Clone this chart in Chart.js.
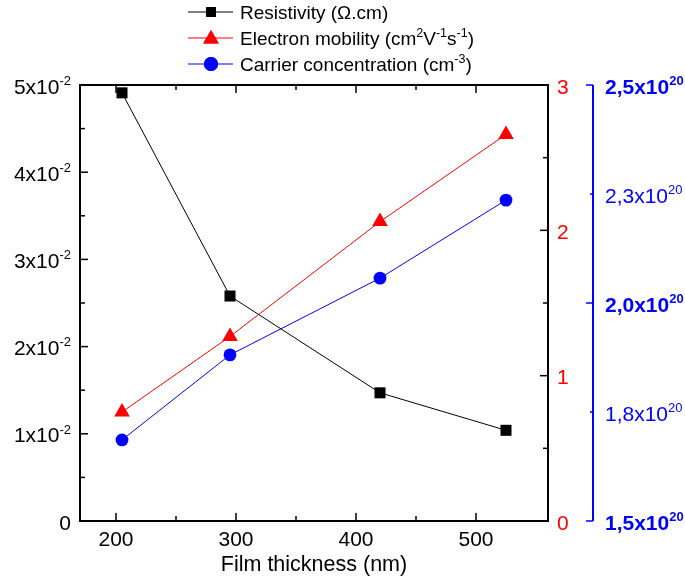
<!DOCTYPE html>
<html>
<head>
<meta charset="utf-8">
<script src="https://cdn.jsdelivr.net/npm/chart.js@4.4.0/dist/chart.umd.min.js"></script>
<style>
  html, body { margin: 0; padding: 0; background: #fff; }
</style>
</head>
<body>
<canvas id="grafik" width="685" height="582"></canvas>
<script>
// Veri
const thickness = [205, 295, 420, 525];
const resistivity = [0.0491, 0.0258, 0.0147, 0.0104];
const mobility = [0.75, 1.27, 2.06, 2.66];
const carrier = [1.686e20, 1.881e20, 2.057e20, 2.236e20];

const seriesNames = [
  "Resistivity (\u03A9.cm)",
  "Electron mobility (cm^{2}V^{-1}s^{-1})",
  "Carrier concentration (cm^{-3})"
];
const xTickLabels = ["200", "300", "400", "500"];
const resTickLabels = ["0", "1x10^{-2}", "2x10^{-2}", "3x10^{-2}", "4x10^{-2}", "5x10^{-2}"];
const mobTickLabels = ["0", "1", "2", "3"];
const carTickLabels = ["1,5x10^{20}", "1,8x10^{20}", "2,0x10^{20}", "2,3x10^{20}", "2,5x10^{20}"];
const xTitle = "Film thickness (nm)";

const FONT = '"Liberation Sans", Arial, sans-serif';

function toPoints(ys) {
  return thickness.map((x, i) => ({ x: x, y: ys[i] }));
}

// "a^{b}c" -> [{t:'a'}, {t:'b', sup:true}, {t:'c'}]
function parseRich(s) {
  const parts = [];
  const re = /\^\{([^}]*)\}/g;
  let last = 0, m;
  while ((m = re.exec(s)) !== null) {
    if (m.index > last) parts.push({ t: s.slice(last, m.index) });
    parts.push({ t: m[1], sup: true });
    last = re.lastIndex;
  }
  if (last < s.length) parts.push({ t: s.slice(last) });
  return parts;
}

// metin çiz (üst simgeli), y = yazı ortası
function drawRich(ctx, s, x, y, align, color, size, supSize, bold) {
  const parts = parseRich(s);
  const w = bold ? "bold " : "";
  let total = 0;
  parts.forEach(p => {
    ctx.font = w + (p.sup ? supSize : size) + "px " + FONT;
    p.w = ctx.measureText(p.t).width;
    total += p.w;
  });
  let cx = align === "right" ? x - total : align === "center" ? x - total / 2 : x;
  ctx.fillStyle = color;
  ctx.textAlign = "left";
  ctx.textBaseline = "alphabetic";
  const base = y + size * 0.36;
  parts.forEach(p => {
    ctx.font = w + (p.sup ? supSize : size) + "px " + FONT;
    ctx.fillText(p.t, cx, p.sup ? base - size * 0.42 : base);
    cx += p.w;
  });
}

function line(ctx, x1, y1, x2, y2) {
  ctx.beginPath();
  ctx.moveTo(x1, y1);
  ctx.lineTo(x2, y2);
  ctx.stroke();
}

const eksenPlugin = {
  id: "eksenler",
  afterDraw(chart) {
    const ctx = chart.ctx;
    const a = chart.chartArea;
    const sx = chart.scales.x, sr = chart.scales.yRes, sm = chart.scales.yMob, sc = chart.scales.yCar;
    ctx.save();
    ctx.lineCap = "square";

    // çerçeve
    ctx.strokeStyle = "#000";
    ctx.lineWidth = 2;
    ctx.strokeRect(a.left, a.top, a.right - a.left, a.bottom - a.top);

    // x tikleri (alt + üst, içe doğru)
    ctx.lineWidth = 1.5;
    ctx.lineCap = "butt";
    sx.ticks.forEach(t => {
      const px = sx.getPixelForValue(t.value);
      const len = t.value % 100 === 0 ? 8 : 5;
      line(ctx, px, a.bottom, px, a.bottom - len);
      line(ctx, px, a.top, px, a.top + len);
    });
    xTickLabels.forEach(l => {
      const px = sx.getPixelForValue(Number(l));
      drawRich(ctx, l, px, 538.5, "center", "#000", 21, 13);
    });
    drawRich(ctx, xTitle, (a.left + a.right) / 2, 563, "center", "#000", 21.5, 14);

    // sol eksen (özdirenç)
    sr.ticks.forEach(t => {
      const py = sr.getPixelForValue(t.value);
      const major = Math.abs(t.value / 0.01 - Math.round(t.value / 0.01)) < 1e-6;
      line(ctx, a.left, py, a.left + (major ? 8 : 5), py);
    });
    resTickLabels.forEach((l, i) => {
      const py = sr.getPixelForValue(i * 0.01);
      drawRich(ctx, l, 71, py + 1, "right", "#000", 21, 13);
    });

    // sağ eksen (mobilite), tikler içe
    sm.ticks.forEach(t => {
      const py = sm.getPixelForValue(t.value);
      const major = Math.abs(t.value - Math.round(t.value)) < 1e-6;
      line(ctx, a.right, py, a.right - (major ? 8 : 5), py);
    });
    mobTickLabels.forEach(l => {
      const py = sm.getPixelForValue(Number(l));
      drawRich(ctx, l, 557, py + 1, "left", "#ff0000", 21, 13);
    });

    // uzak sağ eksen (taşıyıcı yoğunluğu)
    const bx = 593;
    ctx.strokeStyle = "#0000ff";
    ctx.lineWidth = 2;
    line(ctx, bx, a.top, bx, a.bottom);
    ctx.lineWidth = 1.5;
    sc.ticks.forEach((t, i) => {
      const py = sc.getPixelForValue(t.value);
      line(ctx, bx, py, bx - (i % 2 === 0 ? 7 : 3), py);
    });
    carTickLabels.forEach((l, i) => {
      const v = 1.5e20 + i * 0.25e20;
      const py = sc.getPixelForValue(v);
      drawRich(ctx, l, 605, py + 1, "left", "#0000ff", 21, 13, i % 2 === 0);
    });

    // lejant
    const colors = ["#000000", "#ff0000", "#0000ff"];
    const styles = ["rect", "triangle", "circle"];
    const radii = [7, 9, 7];
    const rows = [12, 38, 64];
    seriesNames.forEach((name, i) => {
      const y = rows[i];
      ctx.strokeStyle = colors[i];
      ctx.lineWidth = 1;
      line(ctx, 188, y, 233, y);
      ctx.fillStyle = colors[i];
      Chart.helpers.drawPoint(ctx, { pointStyle: styles[i], radius: radii[i], rotation: 0, borderWidth: 0 }, 211, y + (i === 1 ? 1 : 0));
      ctx.fill();
      drawRich(ctx, name, 240, y, "left", "#000", 19, 12.5);
    });

    ctx.restore();
  }
};

new Chart(document.getElementById("grafik"), {
  type: "line",
  data: {
    datasets: [
      {
        label: seriesNames[0], data: toPoints(resistivity), yAxisID: "yRes",
        borderColor: "#000", backgroundColor: "#000", borderWidth: 1,
        pointStyle: "rect", pointRadius: 7.8, pointBorderWidth: 0, clip: false
      },
      {
        label: seriesNames[1], data: toPoints(mobility), yAxisID: "yMob",
        borderColor: "#ff0000", backgroundColor: "#ff0000", borderWidth: 1,
        pointStyle: "triangle", pointRadius: 9, pointBorderWidth: 0, clip: false
      },
      {
        label: seriesNames[2], data: toPoints(carrier), yAxisID: "yCar",
        borderColor: "#0000ff", backgroundColor: "#0000ff", borderWidth: 1,
        pointStyle: "circle", pointRadius: 6.4, pointBorderWidth: 0, clip: false
      }
    ]
  },
  options: {
    responsive: false,
    animation: false,
    layout: { padding: { left: 80, top: 85, right: 137, bottom: 61 } },
    plugins: { legend: { display: false }, tooltip: { enabled: false } },
    elements: { line: { tension: 0 } },
    scales: {
      x: { type: "linear", display: false, min: 170, max: 560, ticks: { stepSize: 50 } },
      yRes: { type: "linear", display: false, min: 0, max: 0.05, ticks: { stepSize: 0.005 } },
      yMob: { type: "linear", display: false, min: 0, max: 3, ticks: { stepSize: 0.5 } },
      yCar: { type: "linear", display: false, min: 1.5e20, max: 2.5e20, ticks: { stepSize: 0.25e20 } }
    }
  },
  plugins: [eksenPlugin]
});
</script>
</body>
</html>
